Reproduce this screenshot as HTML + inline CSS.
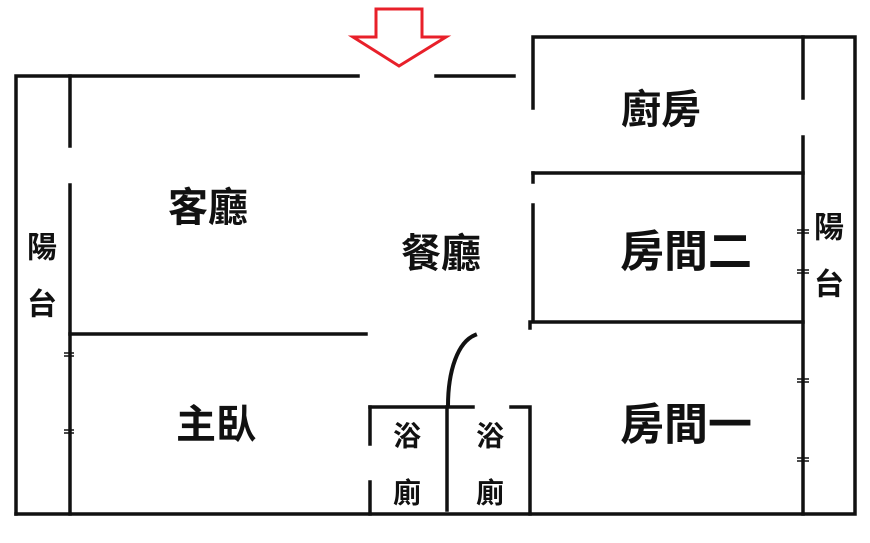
<!DOCTYPE html>
<html><head><meta charset="utf-8"><style>
body{margin:0;background:#fff;width:870px;height:538px;overflow:hidden}
svg text{font-family:"Liberation Sans","Noto Sans CJK TC",sans-serif;fill:#111;text-anchor:middle;dominant-baseline:central;font-weight:bold}
</style></head><body>
<svg width="870" height="538" viewBox="0 0 870 538" xmlns="http://www.w3.org/2000/svg">
<g stroke="#111" stroke-width="3.5" fill="none" stroke-linecap="square">
<path d="M16 514 V76 H358"/>
<path d="M436 76 H514"/>
<path d="M533 108 V37 H855 V514 H16"/>
<path d="M70 76 V146 M70 185 V514"/>
<path d="M70 334 H366"/>
<path d="M803 37 V98 M803 137 V514"/>
<path d="M533 173 H803"/>
<path d="M533 173 V182 M533 205 V322 H803"/>
<path d="M530 322 V328"/>
<path d="M370 407 H473 M511 407 H530 V514"/>
<path d="M370 407 V444 M370 482 V514"/>
<path d="M447 407 V510"/>
<path d="M448 406 C448 370 458 342 475 335" stroke-width="4"/>
</g>
<g stroke="#111" stroke-width="1.5">
<path d="M64 353 H74 M64 356 H74 M64 430 H74 M64 433 H74 M797 230 H809 M797 233 H809 M797 270 H809 M797 273 H809 M797 379 H809 M797 382 H809 M797 458 H809 M797 461 H809"/>
</g>
<polygon points="376,9 422,9 422,37 446,37 399,66 353,37 376,37" fill="#fff" stroke="#e8202a" stroke-width="3" stroke-linejoin="miter"/>
<text x="208" y="208" font-size="40">客廳</text>
<text x="441" y="254" font-size="40">餐廳</text>
<text x="661" y="110" font-size="40">廚房</text>
<text x="686" y="252" font-size="44">房間二</text>
<text x="686" y="425" font-size="44">房間一</text>
<text x="216" y="425" font-size="40">主臥</text>
<text x="42" y="248" font-size="30">陽</text>
<text x="42" y="305" font-size="30">台</text>
<text x="829" y="228" font-size="30">陽</text>
<text x="829" y="285" font-size="30">台</text>
<text x="407" y="436" font-size="28">浴</text>
<text x="407" y="493" font-size="28">廁</text>
<text x="490" y="436" font-size="28">浴</text>
<text x="490" y="493" font-size="28">廁</text>
</svg>
</body></html>
